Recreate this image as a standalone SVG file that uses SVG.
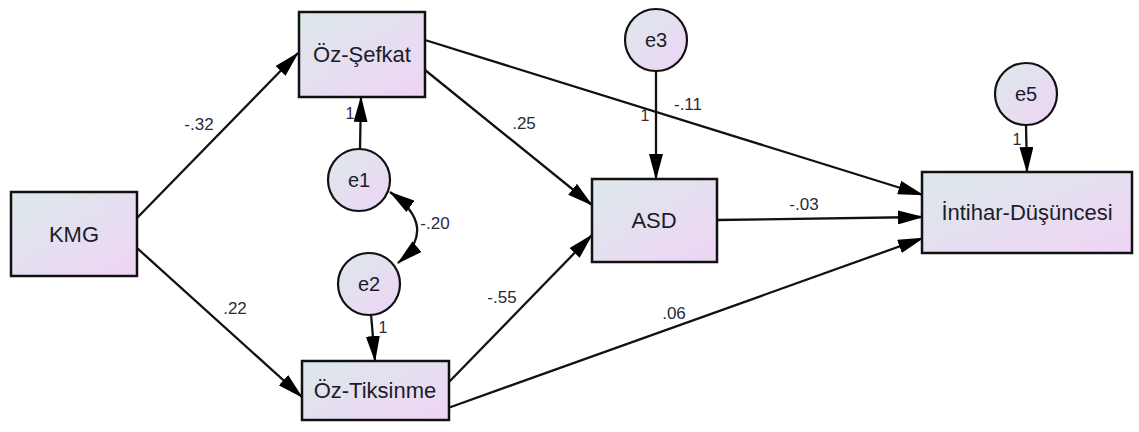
<svg xmlns="http://www.w3.org/2000/svg" width="1139" height="432" viewBox="0 0 1139 432">
<style>
.box{stroke:#111;stroke-width:2.5;fill:url(#g)}
.ell{stroke:#111;stroke-width:2.2;fill:url(#g)}
.t{font-family:"Liberation Sans",Arial,sans-serif;font-size:22px;fill:#1c1c28;text-anchor:middle}
.et{font-family:"Liberation Sans",Arial,sans-serif;font-size:20px;fill:#1c1c28;text-anchor:middle}
.lb{font-family:"Liberation Sans",Arial,sans-serif;font-size:17px;fill:#2a2a3a;text-anchor:middle}
.one{font-family:"Liberation Sans",Arial,sans-serif;font-size:16px;fill:#2a2a3a;text-anchor:middle}
.c{stroke:#111;stroke-width:2.3;fill:none;marker-end:url(#ah)}
</style>
<defs>
<linearGradient id="g" x1="0" y1="0" x2="1" y2="1">
<stop offset="0" stop-color="#dce9eb"/>
<stop offset="1" stop-color="#efd4f5"/>
</linearGradient>
<marker id="ah" viewBox="0 0 26 14" refX="25" refY="7" markerWidth="26" markerHeight="14" markerUnits="userSpaceOnUse" orient="auto-start-reverse">
<path d="M0,0 L26,7 L0,14 z" fill="#000"/>
</marker>
</defs>
<rect width="1139" height="432" fill="#fff"/>
<g id="connectors">
<line class="c" x1="137" y1="218" x2="298" y2="53"/>
<line class="c" x1="137" y1="248" x2="302" y2="397"/>
<line class="c" x1="425" y1="70" x2="592" y2="205"/>
<line class="c" x1="425" y1="40" x2="923" y2="195"/>
<line class="c" x1="448" y1="383" x2="592" y2="235"/>
<line class="c" x1="448" y1="408" x2="923" y2="238"/>
<line class="c" x1="717" y1="220" x2="923" y2="217"/>
<line class="c" x1="360" y1="149" x2="361" y2="97"/>
<line class="c" x1="371" y1="314" x2="375" y2="361"/>
<line class="c" x1="656" y1="71" x2="656" y2="179"/>
<line class="c" x1="1026" y1="125" x2="1027" y2="172"/>
<path class="c" d="M390,192 Q440,227 398,263" style="marker-start:url(#ah)"/>
<text class="lb" x="199" y="130">-.32</text>
<text class="lb" x="235" y="314">.22</text>
<text class="lb" x="524" y="129">.25</text>
<text class="lb" x="688" y="110">-.11</text>
<text class="lb" x="804" y="210">-.03</text>
<text class="lb" x="502" y="303">-.55</text>
<text class="lb" x="674" y="319">.06</text>
<text class="lb" x="435" y="229">-.20</text>
<text class="one" x="350" y="119">1</text>
<text class="one" x="383" y="333">1</text>
<text class="one" x="645" y="121" style="fill:#5a1e2a">1</text>
<text class="one" x="1017" y="145">1</text>
</g>
<g id="KMG"><rect class="box" x="11" y="192" width="126" height="84"/><text class="t" x="74" y="242">KMG</text></g>
<g id="OzSefkat"><rect class="box" x="299" y="12" width="126" height="85"/><text class="t" x="362" y="62">Öz-Şefkat</text></g>
<g id="OzTiksinme"><rect class="box" x="302" y="361" width="147" height="59"/><text class="t" x="375" y="398">Öz-Tiksinme</text></g>
<g id="ASD"><rect class="box" x="592" y="179" width="125" height="83"/><text class="t" x="654" y="228">ASD</text></g>
<g id="Intihar"><rect class="box" x="922" y="172" width="210" height="81"/><text class="t" x="1027" y="220">İntihar-Düşüncesi</text></g>
<g id="e1"><circle class="ell" cx="359" cy="180" r="31"/><text class="et" x="359" y="187">e1</text></g>
<g id="e2"><circle class="ell" cx="369" cy="284" r="31"/><text class="et" x="369" y="291">e2</text></g>
<g id="e3"><circle class="ell" cx="656" cy="40" r="31"/><text class="et" x="656" y="47">e3</text></g>
<g id="e5"><circle class="ell" cx="1026" cy="94" r="31"/><text class="et" x="1026" y="101">e5</text></g>
</svg>
